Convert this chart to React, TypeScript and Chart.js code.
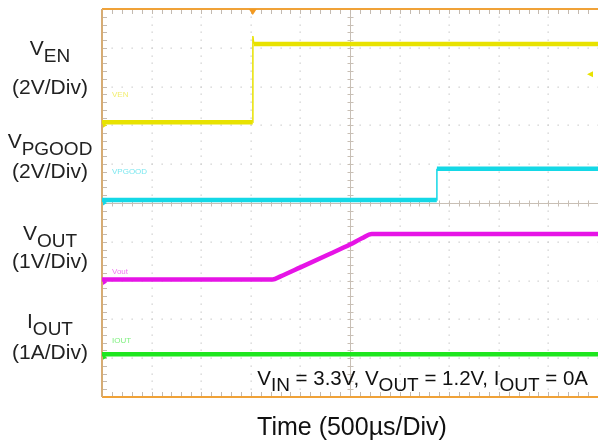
import { useEffect, useRef } from "react";
import { Chart, registerables } from "chart.js";

Chart.register(...registerables);

// ---- data (time in µs, values in channel units) ----
const timeEN = [0, 1520, 1521, 1530, 5000];
const vEN = [0, 0, 4.45, 4.04, 4.04];
const timePG = [0, 3375, 3376, 5000];
const vPGOOD = [0, 0, 1.6, 1.6];
const timeOUT = [0, 1720, 1800, 2000, 2300, 2500, 2620, 2720, 5000];
const vOUT = [0, 0, 0.08, 0.31, 0.66, 0.9, 1.06, 1.17, 1.17];
const timeIOUT = [0, 5000];
const iOUT = [0, 0];

// scope channel settings: ground offset (divisions) and units per division
const channelOffsetDiv = [7.08, 5.08, 3.03, 1.1];
const channelPerDiv = [2, 2, 1, 1];
const channelTags = ["VEN", "VPGOOD", "Vout", "IOUT"];
const channelColors = ["#e8e200", "#14d8e6", "#e614e6", "#1ee61e"];
const channelTagColors = ["#f2ee70", "#7ee8f0", "#f07af0", "#7ef07e"];

const timePerDiv = 500;
const xDivs = 10;
const yDivs = 10;
const triggerTime = 1520;
const triggerLevelDiv = 8.32;

type Part = [string, boolean];
const sideTitles: Part[][] = [
  [["V", false], ["EN", true]],
  [["V", false], ["PGOOD", true]],
  [["V", false], ["OUT", true]],
  [["I", false], ["OUT", true]],
];
const sideScales = ["(2V/Div)", "(2V/Div)", "(1V/Div)", "(1A/Div)"];
const conditions: Part[] = [
  ["V", false], ["IN", true], [" = 3.3V, V", false], ["OUT", true],
  [" = 1.2V, I", false], ["OUT", true], [" = 0A", false],
];
const xTitle = "Time (500µs/Div)";

const FONT = "'Liberation Sans', Arial, sans-serif";

function toDiv(values: number[], ch: number) {
  return values.map((v) => channelOffsetDiv[ch] + v / channelPerDiv[ch]);
}

function drawRich(
  ctx: CanvasRenderingContext2D,
  parts: Part[],
  x: number,
  baseline: number,
  size: number,
  subSize: number,
  drop: number,
  align: "center" | "right"
) {
  const widths = parts.map(([t, sub]) => {
    ctx.font = `${sub ? subSize : size}px ${FONT}`;
    return ctx.measureText(t).width;
  });
  const total = widths.reduce((a, b) => a + b, 0);
  let cx = align === "center" ? x - total / 2 : x - total;
  ctx.textAlign = "left";
  ctx.textBaseline = "alphabetic";
  parts.forEach(([t, sub], i) => {
    ctx.font = `${sub ? subSize : size}px ${FONT}`;
    ctx.fillText(t, cx, baseline + (sub ? drop : 0));
    cx += widths[i];
  });
}

const scopePlugin = {
  id: "scope",
  beforeDatasetsDraw(chart: any) {
    const { ctx, chartArea, scales } = chart;
    const { left, top, right, bottom } = chartArea;
    const xs = scales.x;
    const ys = scales.y;
    const px = (d: number) => xs.getPixelForValue(d * timePerDiv);
    const py = (d: number) => ys.getPixelForValue(d);
    ctx.save();
    // dotted grid
    ctx.fillStyle = "#cdcdcd";
    for (let i = 1; i < xDivs; i++) {
      if (i === 5) continue;
      for (let j = 0; j <= yDivs * 5; j++) {
        ctx.fillRect(Math.round(px(i)) - 0.5, Math.round(py(j / 5)) - 0.5, 1.3, 1.3);
      }
    }
    for (let j = 1; j < yDivs; j++) {
      if (j === 5) continue;
      for (let i = 0; i <= xDivs * 5; i++) {
        ctx.fillRect(Math.round(px(i / 5)) - 0.5, Math.round(py(j)) - 0.5, 1.3, 1.3);
      }
    }
    // center cross
    ctx.strokeStyle = "#c8bfb5";
    ctx.lineWidth = 1;
    const cx = Math.round(px(5)) + 0.5;
    const cy = Math.round(py(5)) + 0.5;
    ctx.beginPath();
    ctx.moveTo(cx, top);
    ctx.lineTo(cx, bottom);
    ctx.moveTo(left, cy);
    ctx.lineTo(right, cy);
    for (let j = 1; j < yDivs * 5; j++) {
      const yy = Math.round(py(j / 5)) + 0.5;
      ctx.moveTo(cx - 3, yy);
      ctx.lineTo(cx + 3, yy);
    }
    for (let i = 1; i < xDivs * 5; i++) {
      const xx = Math.round(px(i / 5)) + 0.5;
      ctx.moveTo(xx, cy - 3);
      ctx.lineTo(xx, cy + 3);
    }
    ctx.stroke();
    // edge ticks
    ctx.strokeStyle = "#c4bab0";
    ctx.beginPath();
    for (let i = 1; i < xDivs * 5; i++) {
      const xx = Math.round(px(i / 5)) + 0.5;
      ctx.moveTo(xx, top);
      ctx.lineTo(xx, top + 5);
      ctx.moveTo(xx, bottom);
      ctx.lineTo(xx, bottom - 5);
    }
    for (let j = 1; j < yDivs * 5; j++) {
      const yy = Math.round(py(j / 5)) + 0.5;
      ctx.moveTo(left, yy);
      ctx.lineTo(left + 5, yy);
    }
    ctx.stroke();
    // border
    ctx.lineWidth = 2;
    ctx.strokeStyle = "#f0a238";
    ctx.beginPath();
    ctx.moveTo(left, top);
    ctx.lineTo(right, top);
    ctx.moveTo(left, bottom);
    ctx.lineTo(right, bottom);
    ctx.stroke();
    ctx.strokeStyle = "#d6ac74";
    ctx.beginPath();
    ctx.moveTo(left, top);
    ctx.lineTo(left, bottom);
    ctx.stroke();
    // channel tags
    ctx.font = `8px ${FONT}`;
    ctx.textAlign = "left";
    ctx.textBaseline = "middle";
    const tagY = [7.8, 5.8, 3.23, 1.45];
    channelTags.forEach((t, i) => {
      ctx.fillStyle = channelTagColors[i];
      ctx.fillText(t, left + 10, py(tagY[i]));
    });
    ctx.restore();
  },
  afterDraw(chart: any) {
    const { ctx, chartArea, scales } = chart;
    const { left, top, right } = chartArea;
    const xs = scales.x;
    const ys = scales.y;
    ctx.save();
    // trigger marker
    const tx = xs.getPixelForValue(triggerTime);
    ctx.fillStyle = "#f39a20";
    ctx.beginPath();
    ctx.moveTo(tx - 4, top);
    ctx.lineTo(tx + 4, top);
    ctx.lineTo(tx, top + 6);
    ctx.closePath();
    ctx.fill();
    // trigger level marker (right)
    const ty = ys.getPixelForValue(triggerLevelDiv);
    ctx.fillStyle = channelColors[0];
    ctx.beginPath();
    ctx.moveTo(right - 11, ty);
    ctx.lineTo(right - 5, ty - 3);
    ctx.lineTo(right - 5, ty + 3);
    ctx.closePath();
    ctx.fill();
    // ground markers (left)
    channelOffsetDiv.forEach((d, i) => {
      const gy = ys.getPixelForValue(d) + 3;
      ctx.fillStyle = channelColors[i];
      ctx.beginPath();
      ctx.moveTo(left + 1, gy - 2.5);
      ctx.lineTo(left + 5, gy);
      ctx.lineTo(left + 1, gy + 2.5);
      ctx.closePath();
      ctx.fill();
    });
    // side labels
    ctx.fillStyle = "#222";
    const titleBase = [55, 148, 240, 328];
    const scaleBase = [94, 178, 268, 359];
    sideTitles.forEach((parts, i) => {
      drawRich(ctx, parts, 50, titleBase[i], 21, 19, 7, "center");
      drawRich(ctx, [[sideScales[i], false]], 50, scaleBase[i], 21, 19, 0, "center");
    });
    // conditions
    ctx.fillStyle = "#111";
    drawRich(ctx, conditions, 588, 385, 20.5, 19, 6, "right");
    // x title
    drawRich(ctx, [[xTitle, false]], 352, 435, 25, 25, 0, "center");
    ctx.restore();
  },
};

export default function App() {
  const ref = useRef<HTMLCanvasElement | null>(null);
  useEffect(() => {
    if (!ref.current) return;
    const mk = (t: number[], v: number[], ch: number, smooth: boolean) => ({
      label: channelTags[ch],
      data: t.map((x, i) => ({ x, y: toDiv(v, ch)[i] })),
      borderColor: channelColors[ch],
      borderWidth: 4.5,
      pointRadius: 0,
      tension: 0,
      cubicInterpolationMode: smooth ? ("monotone" as const) : ("default" as const),
      fill: false,
      segment: {
        borderWidth: (c: any) =>
          Math.abs(c.p1.parsed.x - c.p0.parsed.x) < 15 ? 1.5 : undefined,
      },
    });
    const chart = new Chart(ref.current, {
      type: "line",
      data: {
        datasets: [
          mk(timeEN, vEN, 0, false),
          mk(timePG, vPGOOD, 1, false),
          mk(timeOUT, vOUT, 2, true),
          mk(timeIOUT, iOUT, 3, false),
        ] as any,
      },
      options: {
        responsive: false,
        maintainAspectRatio: false,
        animation: false,
        layout: { padding: { left: 102, top: 9, right: 0, bottom: 48 } },
        plugins: { legend: { display: false }, tooltip: { enabled: false }, title: { display: false } },
        scales: {
          x: { type: "linear", min: 0, max: timePerDiv * xDivs, display: false },
          y: { type: "linear", min: 0, max: yDivs, display: false },
        },
      },
      plugins: [scopePlugin],
    });
    return () => chart.destroy();
  }, []);
  return (
    <div style={{ position: "fixed", left: 0, top: 0, width: 598, height: 445, background: "#fff" }}>
      <canvas ref={ref} width={598} height={445} style={{ width: 598, height: 445 }} />
    </div>
  );
}
